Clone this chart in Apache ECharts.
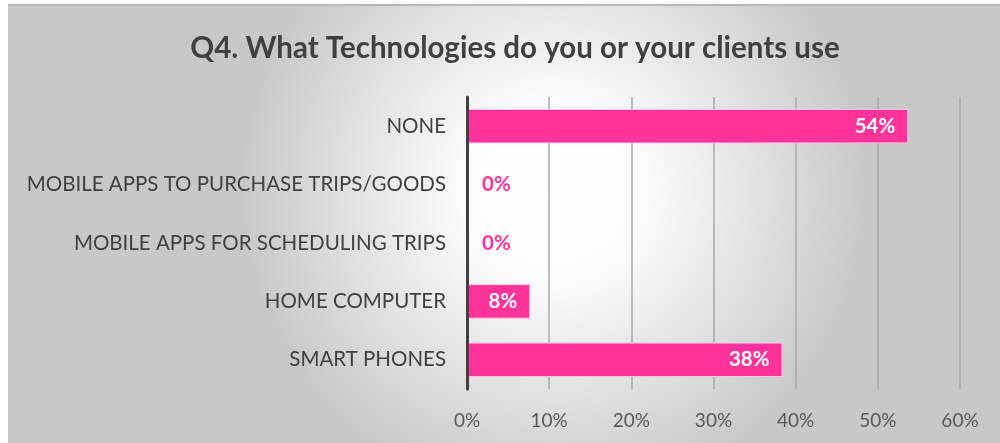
<!DOCTYPE html>
<html>
<head>
<meta charset="utf-8">
<script src="https://cdn.jsdelivr.net/npm/echarts@6/dist/echarts.min.js"></script>
<style>
html,body{margin:0;padding:0;background:#fff;width:1000px;height:443px;overflow:hidden;}
#chart{position:absolute;left:8px;top:4px;width:992px;height:437px;border-top:2px solid #b8b8b8;}
</style>
</head>
<body>
<div id="chart"></div>
<script>
const titleText = 'Q4. What Technologies do you or your clients use';
const categories = ['SMART PHONES', 'HOME COMPUTER', 'MOBILE APPS FOR SCHEDULING TRIPS', 'MOBILE APPS TO PURCHASE TRIPS/GOODS', 'NONE'];
const values = [38.4, 7.7, 0, 0, 53.7];
const xTicks = [0, 10, 20, 30, 40, 50, 60];

const FONT = 'Lato';
const chart = echarts.init(document.getElementById('chart'), null, {renderer: 'canvas'});
chart.setOption({
  backgroundColor: {
    type: 'radial', x: 0.55, y: 0.42, r: 0.72,
    colorStops: [{offset: 0, color: '#ffffff'}, {offset: 0.3, color: '#fbfbfb'}, {offset: 1, color: '#c8c8c8'}]
  },
  title: {
    text: titleText,
    left: 502, top: 22, textAlign: 'center',
    textStyle: {fontFamily: FONT, fontSize: 29.5, fontWeight: 'bold', color: '#404040'}
  },
  grid: {left: 459, right: 40, top: 91, bottom: 54},
  xAxis: {
    type: 'value', min: 0, max: 60, interval: 10,
    axisLine: {show: false}, axisTick: {show: false},
    splitLine: {show: true, lineStyle: {color: '#a8a8a8', width: 1.5}},
    axisLabel: {formatter: v => xTicks.includes(v) ? v + '%' : '', fontFamily: FONT, fontSize: 19, color: '#595959', margin: 22}
  },
  yAxis: {
    type: 'category', data: categories, z: 5,
    axisLine: {show: true, lineStyle: {color: '#404040', width: 3}},
    axisTick: {show: false},
    axisLabel: {fontFamily: FONT, fontSize: 20.5, color: '#404040', margin: 21}
  },
  series: [{
    type: 'bar', barCategoryGap: '41%',
    data: values.map(v => v === 0
      ? {value: v, itemStyle: {borderWidth: 0}, label: {position: 'right', distance: 15, color: '#ff3399'}}
      : v),
    itemStyle: {color: '#ff3399', borderColor: '#ffc6e2', borderWidth: 1},
    label: {
      show: true, fontFamily: FONT, fontSize: 20.5, fontWeight: 'bold',
      formatter: p => Math.round(p.value) + '%',
      position: 'insideRight', distance: 13, color: '#ffffff'
    }
  }]
});
</script>
</body>
</html>
